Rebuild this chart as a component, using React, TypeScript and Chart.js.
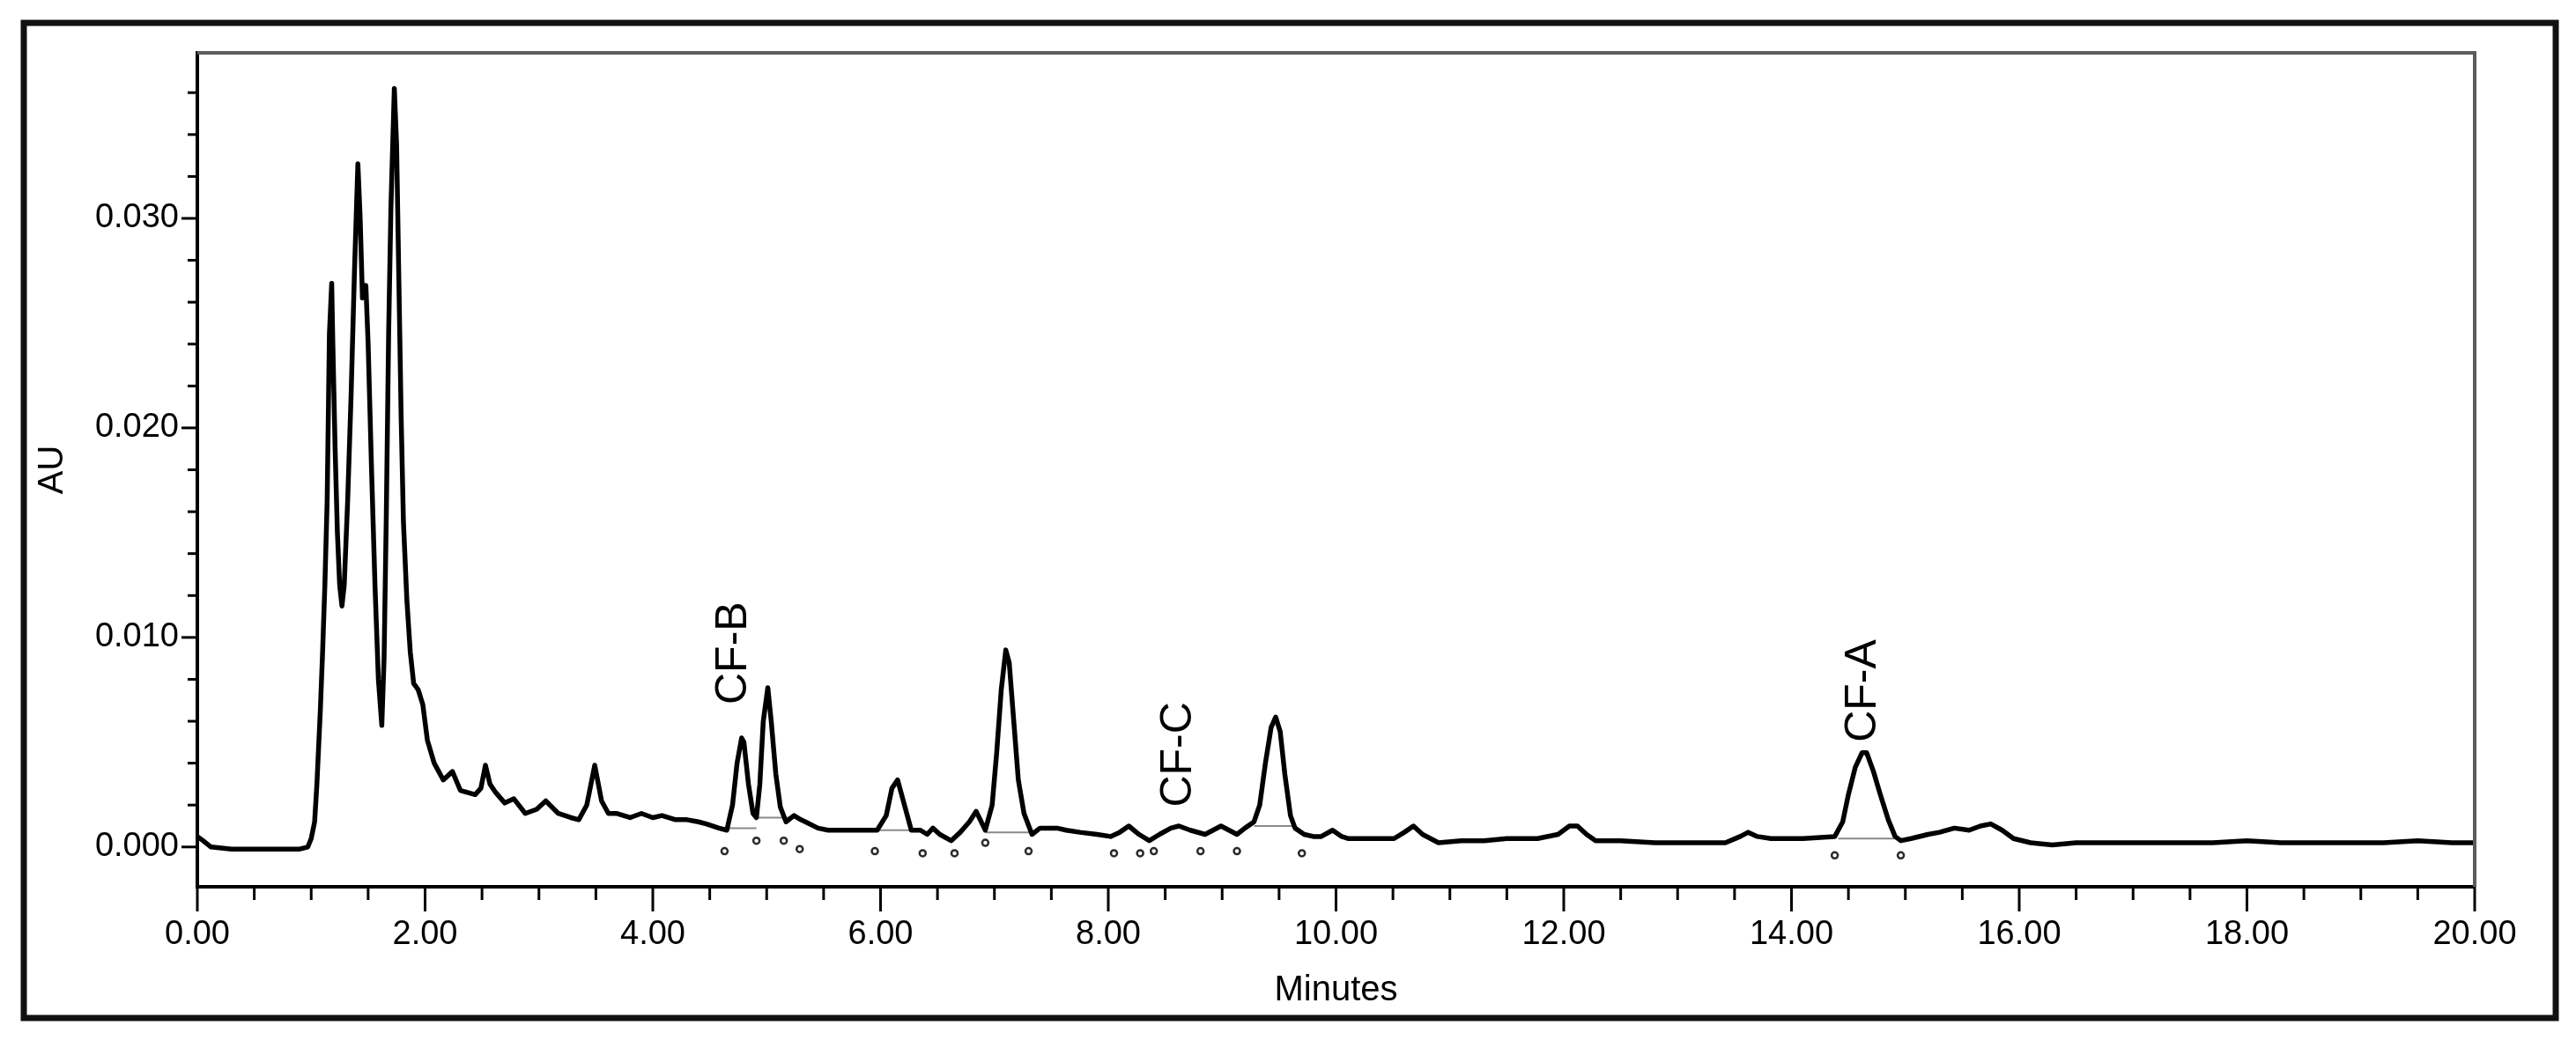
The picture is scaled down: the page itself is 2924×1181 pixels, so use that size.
import React, { useEffect, useRef } from 'react';
import Chart from 'chart.js/auto';

// Retention time (min) and absorbance (AU)
const times = [
  0.00, 0.05, 0.12, 0.30, 0.50, 0.70, 0.90, 0.97, 1.00, 1.03,
  1.05, 1.08, 1.10, 1.12, 1.14, 1.15, 1.16, 1.18, 1.19, 1.21,
  1.23, 1.25, 1.27, 1.29, 1.32, 1.35, 1.38, 1.41, 1.43, 1.45,
  1.48, 1.50, 1.53, 1.56, 1.59, 1.62, 1.64, 1.66, 1.68, 1.70,
  1.73, 1.75, 1.77, 1.79, 1.81, 1.84, 1.87, 1.90, 1.94, 1.98,
  2.02, 2.08, 2.16, 2.24, 2.31, 2.44, 2.49, 2.53, 2.57, 2.62,
  2.70, 2.78, 2.88, 2.98, 3.06, 3.17, 3.28, 3.35, 3.42, 3.49,
  3.55, 3.61, 3.68, 3.80, 3.90, 4.00, 4.08, 4.20, 4.30, 4.40,
  4.47, 4.58, 4.65, 4.70, 4.74, 4.78, 4.80, 4.84, 4.88, 4.91,
  4.94, 4.97, 5.01, 5.04, 5.08, 5.12, 5.17, 5.24, 5.30, 5.34,
  5.45, 5.54, 5.70, 5.85, 5.97, 6.05, 6.10, 6.15, 6.20, 6.27,
  6.35, 6.41, 6.46, 6.52, 6.62, 6.70, 6.78, 6.84, 6.92, 6.98,
  7.02, 7.06, 7.10, 7.13, 7.17, 7.21, 7.26, 7.33, 7.40, 7.47,
  7.55, 7.63, 7.75, 7.90, 8.02, 8.10, 8.18, 8.27, 8.36, 8.45,
  8.55, 8.62, 8.72, 8.85, 8.92, 8.99, 9.06, 9.13, 9.20, 9.28,
  9.33, 9.38, 9.43, 9.47, 9.51, 9.55, 9.60, 9.64, 9.72, 9.80,
  9.87, 9.97, 10.05, 10.11, 10.30, 10.51, 10.60, 10.68, 10.76, 10.90,
  11.10, 11.30, 11.50, 11.77, 11.95, 12.05, 12.12, 12.20, 12.28, 12.50,
  12.80, 13.10, 13.42, 13.55, 13.62, 13.70, 13.82, 14.10, 14.38, 14.45,
  14.50, 14.56, 14.62, 14.66, 14.72, 14.78, 14.85, 14.91, 14.96, 15.05,
  15.20, 15.30, 15.43, 15.56, 15.66, 15.75, 15.85, 15.95, 16.10, 16.29,
  16.50, 16.80, 17.10, 17.40, 17.70, 18.00, 18.30, 18.60, 18.90, 19.20,
  19.50, 19.80, 20.00,
];

const absorbance = [
  0.0005, 0.0003, 0.0000, -0.0001, -0.0001, -0.0001, -0.0001, 0.0000, 0.0004, 0.0012,
  0.0030, 0.0065, 0.0093, 0.0125, 0.0165, 0.0205, 0.0245, 0.0269, 0.0240, 0.0190,
  0.0150, 0.0125, 0.0115, 0.0125, 0.0165, 0.0215, 0.0275, 0.0326, 0.0300, 0.0262,
  0.0268, 0.0240, 0.0180, 0.0125, 0.0080, 0.0058, 0.0090, 0.0160, 0.0245, 0.0305,
  0.0362, 0.0335, 0.0270, 0.0205, 0.0155, 0.0118, 0.0093, 0.0078, 0.0075, 0.0068,
  0.0051, 0.0040, 0.0032, 0.0036, 0.0027, 0.0025, 0.0028, 0.0039, 0.0030, 0.0026,
  0.0021, 0.0023, 0.0016, 0.0018, 0.0022, 0.0016, 0.0014, 0.0013, 0.0020, 0.0039,
  0.0022, 0.0016, 0.0016, 0.0014, 0.0016, 0.0014, 0.0015, 0.0013, 0.0013, 0.0012,
  0.0011, 0.0009, 0.0008, 0.0020, 0.0040, 0.0052, 0.0050, 0.0030, 0.0016, 0.0014,
  0.0030, 0.0060, 0.0076, 0.0060, 0.0035, 0.0019, 0.0012, 0.0015, 0.0013, 0.0012,
  0.0009, 0.0008, 0.0008, 0.0008, 0.0008, 0.0015, 0.0028, 0.0032, 0.0022, 0.0008,
  0.0008, 0.0006, 0.0009, 0.0006, 0.0003, 0.0007, 0.0012, 0.0017, 0.0008, 0.0020,
  0.0045, 0.0075, 0.0094, 0.0088, 0.0060, 0.0032, 0.0016, 0.0006, 0.0009, 0.0009,
  0.0009, 0.0008, 0.0007, 0.0006, 0.0005, 0.0007, 0.0010, 0.0006, 0.0003, 0.0006,
  0.0009, 0.0010, 0.0008, 0.0006, 0.0008, 0.0010, 0.0008, 0.0006, 0.0009, 0.0012,
  0.0020, 0.0040, 0.0057, 0.0062, 0.0055, 0.0035, 0.0015, 0.0009, 0.0006, 0.0005,
  0.0005, 0.0008, 0.0005, 0.0004, 0.0004, 0.0004, 0.0007, 0.0010, 0.0006, 0.0002,
  0.0003, 0.0003, 0.0004, 0.0004, 0.0006, 0.0010, 0.0010, 0.0006, 0.0003, 0.0003,
  0.0002, 0.0002, 0.0002, 0.0005, 0.0007, 0.0005, 0.0004, 0.0004, 0.0005, 0.0012,
  0.0025, 0.0038, 0.0045, 0.0045, 0.0036, 0.0025, 0.0013, 0.0005, 0.0003, 0.0004,
  0.0006, 0.0007, 0.0009, 0.0008, 0.0010, 0.0011, 0.0008, 0.0004, 0.0002, 0.0001,
  0.0002, 0.0002, 0.0002, 0.0002, 0.0002, 0.0003, 0.0002, 0.0002, 0.0002, 0.0002,
  0.0003, 0.0002, 0.0002,
];

// Integration baselines drawn under integrated peaks
const integStart = [4.65, 4.91, 5.97, 6.92, 9.28, 14.41];
const integEnd = [4.91, 5.24, 6.27, 7.33, 9.64, 14.96];
const integLevel = [0.0009, 0.0014, 0.0008, 0.0007, 0.0010, 0.0004];

// Small peak start/end markers below the trace
const markerTimes = [4.63, 4.91, 5.15, 5.29, 5.95, 6.37, 6.65, 6.92, 7.30, 8.05, 8.28, 8.40, 8.81, 9.13, 9.70, 14.38, 14.96];
const markerValues = [-0.0002, 0.0003, 0.0003, -0.0001, -0.0002, -0.0003, -0.0003, 0.0002, -0.0002, -0.0003, -0.0003, -0.0002, -0.0002, -0.0002, -0.0003, -0.0004, -0.0004];

const xTickValues = [0, 2, 4, 6, 8, 10, 12, 14, 16, 18, 20];
const xTickLabels = ['0.00', '2.00', '4.00', '6.00', '8.00', '10.00', '12.00', '14.00', '16.00', '18.00', '20.00'];
const yTickValues = [0, 0.01, 0.02, 0.03];
const yTickLabels = ['0.000', '0.010', '0.020', '0.030'];

const peakLabels = ['CF-B', 'CF-C', 'CF-A'];
const peakLabelTimes = [4.71, 8.62, 14.63];
const peakLabelValues = [0.0068, 0.0019, 0.0050];

const X_MIN = 0;
const X_MAX = 20;
const Y_MIN = -0.0019;
const Y_MAX = 0.0379;

const FONT = '"Liberation Sans", Arial, Helvetica, sans-serif';

const decorPlugin = {
  id: 'decor',
  afterDraw(chart: any) {
    const { ctx, chartArea: a, scales } = chart;
    const x = scales.x;
    const y = scales.y;
    ctx.save();
    // plot frame (top / right)
    ctx.strokeStyle = '#5c5c5c';
    ctx.lineWidth = 4;
    ctx.beginPath();
    ctx.moveTo(a.left, a.top);
    ctx.lineTo(a.right, a.top);
    ctx.lineTo(a.right, a.bottom);
    ctx.stroke();

    // x ticks: minor every 0.5 min, major every 2 min
    ctx.strokeStyle = '#000';
    ctx.lineWidth = 3;
    for (let k = 0; k <= 40; k++) {
      const px = x.getPixelForValue(k * 0.5);
      const major = k % 4 === 0;
      ctx.beginPath();
      ctx.moveTo(px, a.bottom);
      ctx.lineTo(px, a.bottom + (major ? 28 : 15));
      ctx.stroke();
    }
    // y ticks: minor every 0.002
    for (let k = 0; k <= 18; k++) {
      const py = y.getPixelForValue(k * 0.002);
      const major = k % 5 === 0;
      ctx.beginPath();
      ctx.moveTo(a.left, py);
      ctx.lineTo(a.left - (major ? 18 : 11), py);
      ctx.stroke();
    }

    // peak labels (vertical)
    ctx.fillStyle = '#000';
    ctx.font = `50px ${FONT}`;
    ctx.textAlign = 'left';
    ctx.textBaseline = 'middle';
    peakLabels.forEach((s, i) => {
      const px = x.getPixelForValue(peakLabelTimes[i]);
      const py = y.getPixelForValue(peakLabelValues[i]);
      ctx.save();
      ctx.translate(px, py);
      ctx.rotate(-Math.PI / 2);
      ctx.fillText(s, 0, 0);
      ctx.restore();
    });

    // outer frame
    ctx.strokeStyle = '#111';
    ctx.lineWidth = 7;
    ctx.strokeRect(27, 26, 2874, 1130);
    ctx.restore();
  },
};

export default function App() {
  const canvasRef = useRef<HTMLCanvasElement | null>(null);

  useEffect(() => {
    const canvas = canvasRef.current;
    if (!canvas) return;

    const trace = times.map((t, i) => ({ x: t, y: absorbance[i] }));
    const integ: { x: number; y: number | null }[] = [];
    integStart.forEach((s, i) => {
      integ.push({ x: s, y: integLevel[i] });
      integ.push({ x: integEnd[i], y: integLevel[i] });
      integ.push({ x: integEnd[i] + 0.001, y: null });
    });
    const markers = markerTimes.map((t, i) => ({ x: t, y: markerValues[i] }));

    const chart = new Chart(canvas, {
      type: 'line',
      data: {
        datasets: [
          {
            data: integ as any,
            borderColor: '#8a8a8a',
            borderWidth: 2,
            pointRadius: 0,
            spanGaps: false,
            tension: 0,
            order: 3,
          },
          {
            data: markers as any,
            showLine: false,
            pointRadius: 3.5,
            pointBorderWidth: 2.5,
            pointBorderColor: '#2a2a2a',
            pointBackgroundColor: '#ffffff',
            order: 2,
          },
          {
            data: trace as any,
            borderColor: '#000000',
            borderWidth: 5.5,
            borderJoinStyle: 'round',
            borderCapStyle: 'round',
            pointRadius: 0,
            tension: 0,
            order: 1,
          },
        ],
      },
      options: {
        responsive: false,
        animation: false,
        devicePixelRatio: 1,
        layout: { padding: { left: 0, top: 60, right: 115, bottom: 0 } },
        plugins: {
          legend: { display: false },
          tooltip: { enabled: false },
        },
        scales: {
          x: {
            type: 'linear',
            min: X_MIN,
            max: X_MAX,
            afterBuildTicks: (scale: any) => {
              scale.ticks = xTickValues.map((v) => ({ value: v }));
            },
            afterFit: (scale: any) => {
              scale.height = 174;
            },
            ticks: {
              autoSkip: false,
              maxRotation: 0,
              padding: 32,
              color: '#000',
              font: { family: FONT, size: 38 },
              callback: (v: any) => {
                const i = xTickValues.indexOf(Number(v));
                return i >= 0 ? xTickLabels[i] : '';
              },
            },
            grid: { display: false, drawTicks: false },
            border: { display: true, color: '#000', width: 4 },
            title: {
              display: true,
              text: 'Minutes',
              color: '#000',
              font: { family: FONT, size: 40 },
              padding: { top: 0, bottom: 32 },
            },
          },
          y: {
            type: 'linear',
            min: Y_MIN,
            max: Y_MAX,
            afterBuildTicks: (scale: any) => {
              scale.ticks = yTickValues.map((v) => ({ value: v }));
            },
            afterFit: (scale: any) => {
              scale.width = 224;
            },
            ticks: {
              autoSkip: false,
              padding: 21,
              color: '#000',
              font: { family: FONT, size: 38 },
              callback: (v: any) => {
                const i = yTickValues.findIndex((t) => Math.abs(t - Number(v)) < 1e-9);
                return i >= 0 ? yTickLabels[i] : '';
              },
            },
            grid: { display: false, drawTicks: false },
            border: { display: true, color: '#000', width: 4 },
            title: {
              display: true,
              text: 'AU',
              color: '#000',
              font: { family: FONT, size: 40 },
              padding: { top: 36, bottom: 0 },
            },
          },
        },
      },
      plugins: [decorPlugin],
    } as any);

    return () => {
      chart.destroy();
    };
  }, []);

  return (
    <div style={{ position: 'absolute', left: 0, top: 0, width: 2924, height: 1181, background: '#fff' }}>
      <canvas ref={canvasRef} width={2924} height={1181} style={{ display: 'block', width: 2924, height: 1181 }} />
    </div>
  );
}
